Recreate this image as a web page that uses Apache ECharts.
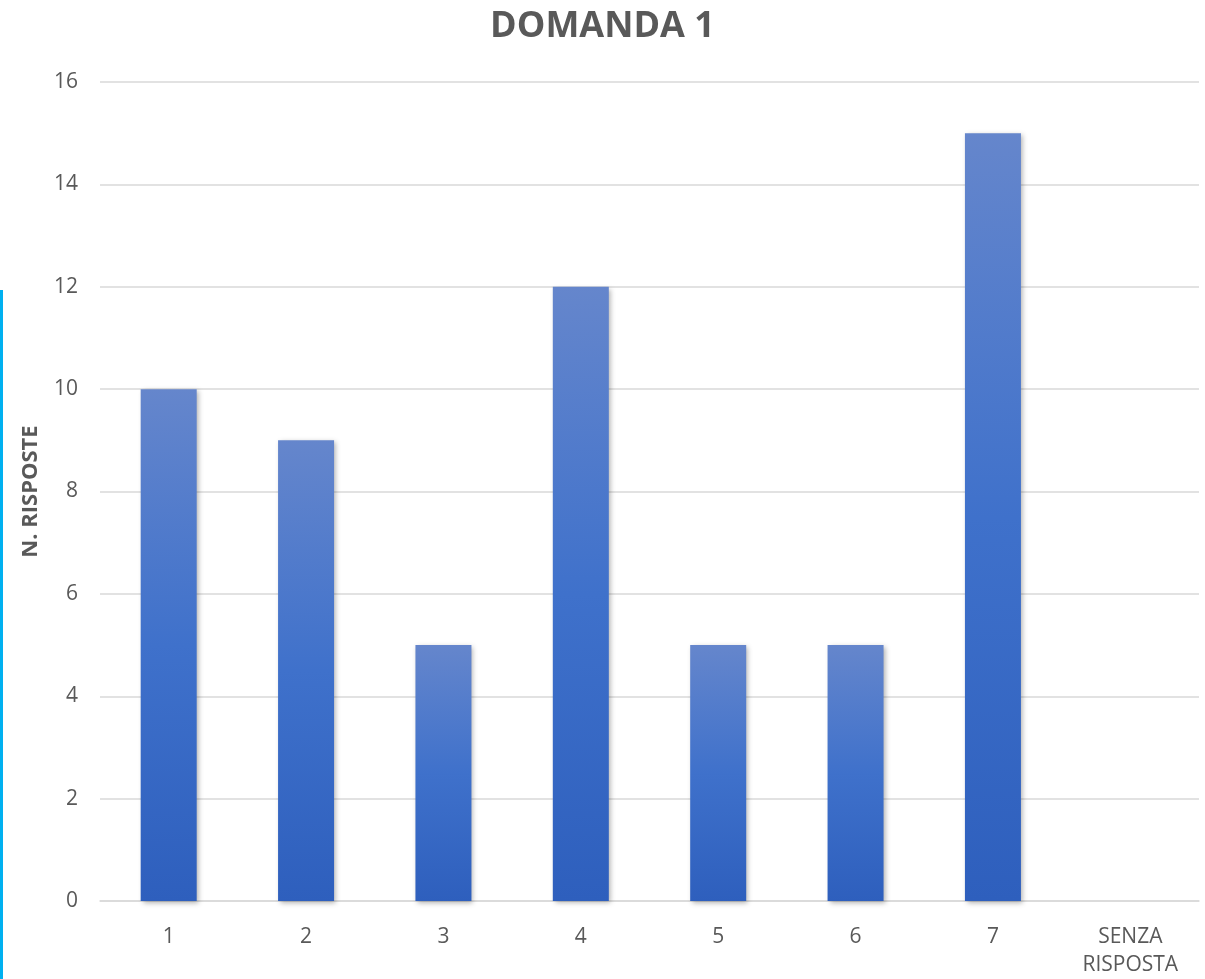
<!DOCTYPE html>
<html><head><meta charset="utf-8">
<script src="https://cdn.jsdelivr.net/npm/echarts@6/dist/echarts.min.js"></script>
<style>html,body{margin:0;padding:0;background:#fff}#c{width:1205px;height:979px}</style>
</head><body><div id="c"></div>
<script>
const categories = ['1','2','3','4','5','6','7','SENZA\nRISPOSTA'];
const values = [10, 9, 5, 12, 5, 5, 15, 0];
const yTicks = {min: 0, max: 16, interval: 2};
const chart = echarts.init(document.getElementById('c'));
chart.setOption({
  animation: false,
  backgroundColor: '#fff',
  title: {text: 'DOMANDA 1', left: 'center', top: 4,
    textStyle: {fontFamily: 'Open Sans', fontWeight: 'bold', fontSize: 36, color: '#595959'}},
  graphic: [{type: 'rect', shape: {x: 0, y: 290, width: 3, height: 700}, style: {fill: '#00b0f0'}}],
  grid: {left: 100, right: 6, top: 82, bottom: 78},
  xAxis: {type: 'category', data: categories,
    axisLine: {lineStyle: {color: '#d9d9d9', width: 1.5}},
    axisTick: {show: false},
    axisLabel: {color: '#595959', fontFamily: 'Open Sans', fontSize: 21, margin: 22, lineHeight: 28}},
  yAxis: {type: 'value', min: yTicks.min, max: yTicks.max, interval: yTicks.interval,
    name: 'N. RISPOSTE', nameLocation: 'middle', nameGap: 58,
    nameTextStyle: {fontFamily: 'Open Sans', fontWeight: 'bold', fontSize: 22, color: '#595959'},
    axisLine: {show: false}, axisTick: {show: false},
    axisLabel: {color: '#595959', fontFamily: 'Open Sans', fontSize: 21, margin: 22},
    splitLine: {lineStyle: {color: '#d9d9d9', width: 1.5}}},
  series: [{type: 'bar', data: values, barWidth: 56,
    itemStyle: {
      color: new echarts.graphic.LinearGradient(0, 0, 0, 1, [
        {offset: 0, color: '#6586cc'}, {offset: 0.5, color: '#3f71cb'}, {offset: 1, color: '#2e5fbd'}]),
      shadowColor: 'rgba(0,0,0,0.3)', shadowBlur: 5, shadowOffsetX: 2, shadowOffsetY: 2}}]
});
</script></body></html>
